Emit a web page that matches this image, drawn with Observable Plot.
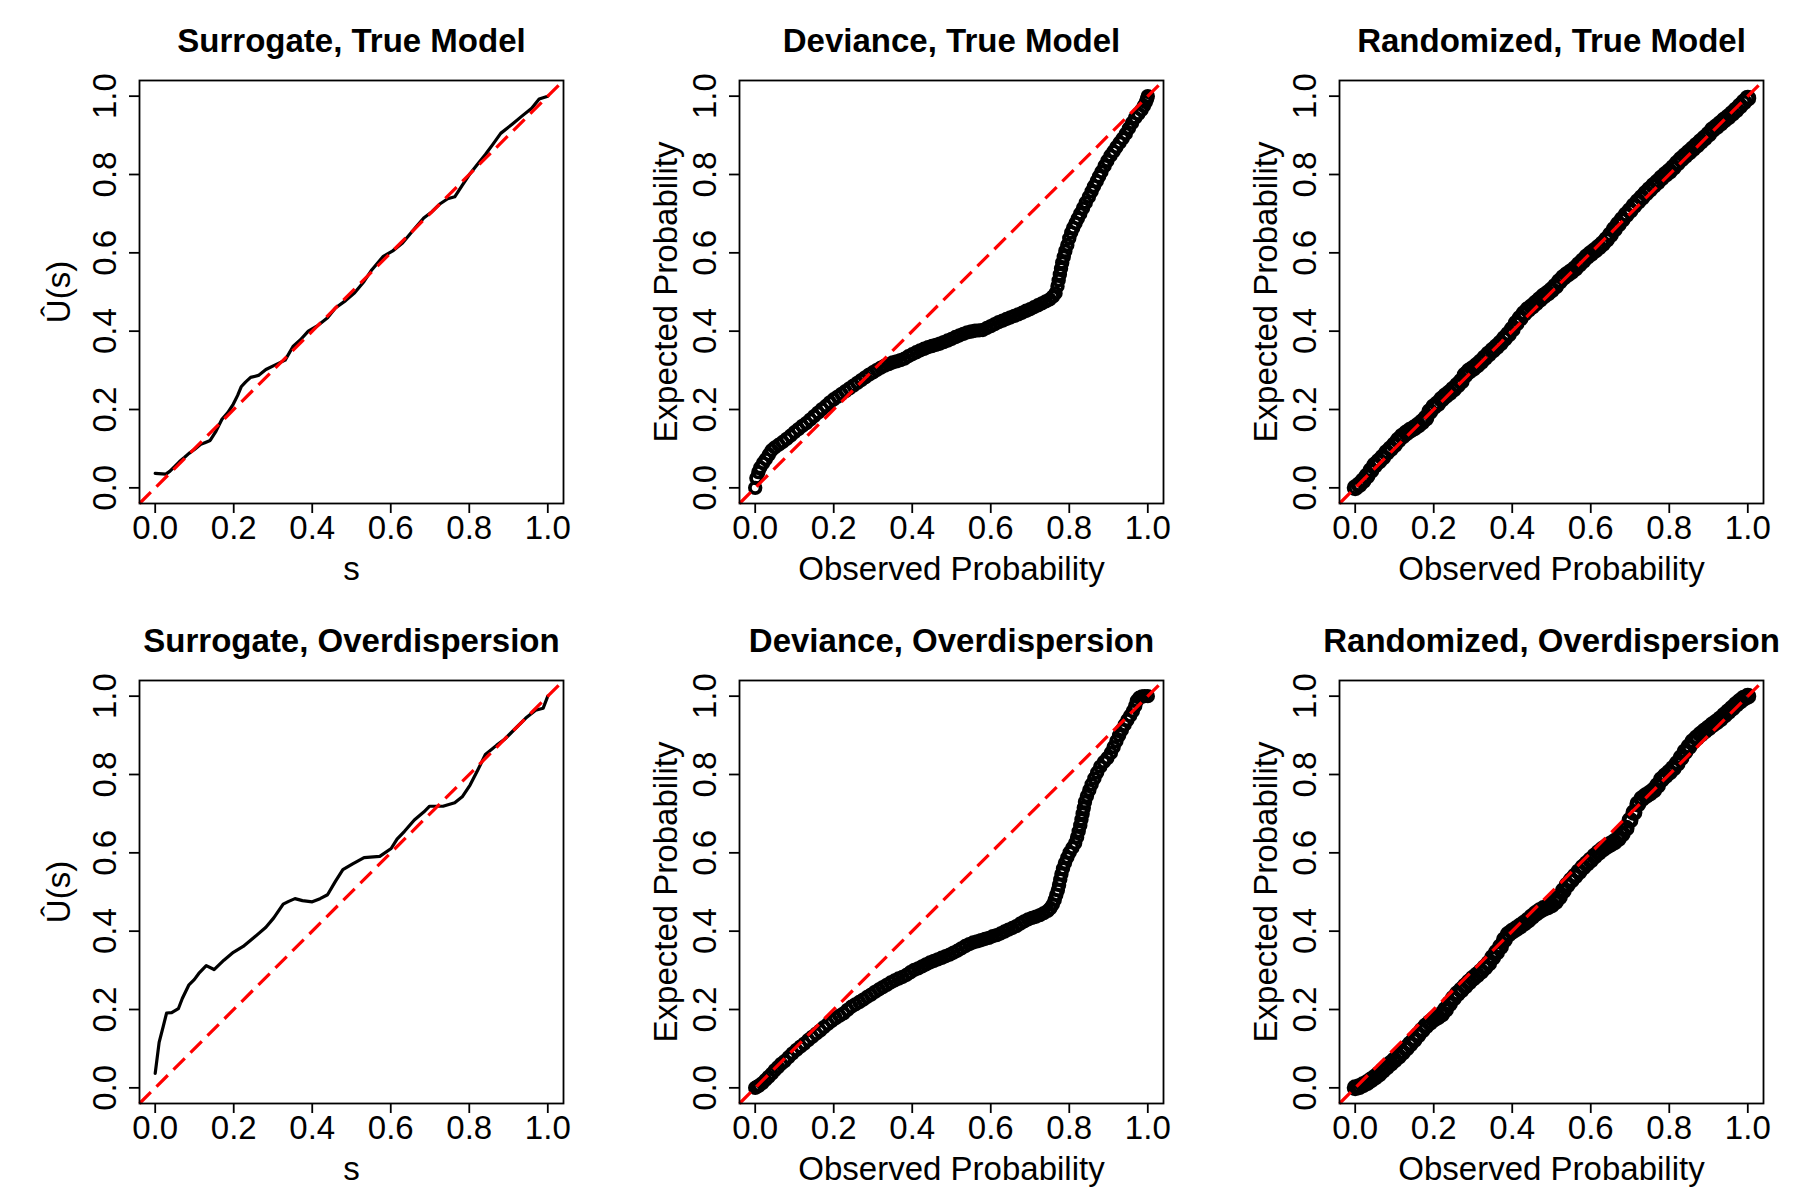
<!DOCTYPE html>
<html>
<head>
<meta charset="utf-8">
<script src="https://cdn.jsdelivr.net/npm/d3@7"></script>
<script src="https://cdn.jsdelivr.net/npm/@observablehq/plot@0.6"></script>
<style>
  html, body { margin: 0; padding: 0; background: #fff; }
  #root { position: relative; width: 1800px; height: 1200px; background: #fff; }
  .cell { position: absolute; width: 600px; height: 600px; }
</style>
</head>
<body>
<div id="root"></div>
<script>
// ---------- tick values / labels ----------
const tickValues = [0, 0.2, 0.4, 0.6, 0.8, 1.0];
const tickLabels = ["0.0", "0.2", "0.4", "0.6", "0.8", "1.0"];
const axisDomain = [-0.04, 1.04];

// ---------- panel titles & axis labels ----------
const titles = [
  "Surrogate, True Model", "Deviance, True Model", "Randomized, True Model",
  "Surrogate, Overdispersion", "Deviance, Overdispersion", "Randomized, Overdispersion"
];
const xLabels = ["s", "Observed Probability", "Observed Probability", "s", "Observed Probability", "Observed Probability"];
const yLabels = ["Û(s)", "Expected Probability", "Expected Probability", "Û(s)", "Expected Probability", "Expected Probability"];

// ---------- series: [s, U(s)] ----------
const surrogateTrue = [
  [0.000,0.037],[0.027,0.035],[0.037,0.042],[0.050,0.055],[0.062,0.067],[0.075,0.078],[0.086,0.088],
  [0.100,0.098],[0.116,0.111],[0.128,0.116],[0.140,0.121],[0.155,0.145],[0.170,0.175],[0.185,0.192],
  [0.199,0.214],[0.210,0.236],[0.219,0.258],[0.230,0.270],[0.243,0.282],[0.263,0.287],[0.282,0.302],
  [0.302,0.312],[0.331,0.326],[0.351,0.361],[0.370,0.378],[0.390,0.400],[0.415,0.415],[0.439,0.434],
  [0.459,0.459],[0.485,0.478],[0.508,0.498],[0.532,0.527],[0.552,0.557],[0.581,0.591],[0.605,0.605],
  [0.630,0.625],[0.655,0.655],[0.684,0.689],[0.705,0.705],[0.724,0.724],[0.745,0.738],[0.763,0.743],
  [0.782,0.772],[0.802,0.802],[0.820,0.825],[0.841,0.851],[0.860,0.877],[0.880,0.905],[0.910,0.929],
  [0.934,0.949],[0.959,0.969],[0.978,0.993],[1.000,1.000]
];
const surrogateOver = [
  [0.000,0.037],[0.010,0.116],[0.020,0.155],[0.029,0.191],[0.042,0.192],[0.059,0.202],[0.069,0.228],
  [0.086,0.263],[0.100,0.277],[0.111,0.292],[0.130,0.312],[0.150,0.302],[0.175,0.326],[0.199,0.346],
  [0.224,0.361],[0.253,0.385],[0.282,0.410],[0.302,0.434],[0.326,0.469],[0.340,0.476],[0.356,0.483],
  [0.375,0.478],[0.400,0.475],[0.420,0.483],[0.439,0.493],[0.459,0.527],[0.478,0.557],[0.503,0.572],
  [0.532,0.588],[0.572,0.591],[0.601,0.611],[0.616,0.635],[0.635,0.655],[0.660,0.684],[0.684,0.704],
  [0.699,0.719],[0.733,0.719],[0.763,0.728],[0.782,0.743],[0.802,0.773],[0.822,0.812],[0.841,0.851],
  [0.870,0.875],[0.890,0.890],[0.920,0.920],[0.944,0.944],[0.969,0.964],[0.988,0.969],[1.000,1.000]
];

// ---------- series: [observed, expected] ----------
const devianceTrue = [
  [0.000,0.000],[0.003,0.025],[0.008,0.040],[0.013,0.052],[0.020,0.063],[0.027,0.073],[0.035,0.085],
  [0.042,0.096],[0.050,0.103],[0.060,0.110],[0.070,0.117],[0.080,0.125],[0.090,0.133],[0.100,0.142],
  [0.110,0.150],[0.120,0.158],[0.130,0.165],[0.140,0.174],[0.150,0.183],[0.160,0.192],[0.170,0.201],
  [0.180,0.209],[0.190,0.218],[0.200,0.226],[0.210,0.233],[0.220,0.240],[0.230,0.247],[0.240,0.254],
  [0.250,0.261],[0.260,0.268],[0.270,0.275],[0.280,0.282],[0.290,0.289],[0.300,0.295],[0.310,0.301],
  [0.320,0.307],[0.330,0.312],[0.340,0.316],[0.350,0.320],[0.360,0.323],[0.370,0.326],[0.380,0.330],
  [0.390,0.336],[0.400,0.341],[0.410,0.346],[0.420,0.351],[0.430,0.355],[0.440,0.359],[0.450,0.362],
  [0.460,0.365],[0.470,0.368],[0.480,0.372],[0.490,0.376],[0.500,0.380],[0.510,0.385],[0.520,0.389],
  [0.530,0.393],[0.540,0.397],[0.550,0.399],[0.560,0.401],[0.570,0.402],[0.580,0.403],[0.590,0.408],
  [0.600,0.413],[0.610,0.418],[0.620,0.423],[0.630,0.427],[0.640,0.431],[0.650,0.435],[0.660,0.439],
  [0.670,0.443],[0.680,0.447],[0.690,0.452],[0.700,0.456],[0.710,0.461],[0.720,0.466],[0.730,0.471],
  [0.740,0.476],[0.750,0.481],[0.758,0.488],[0.765,0.497],[0.770,0.515],[0.773,0.530],[0.776,0.545],
  [0.779,0.560],[0.782,0.575],[0.786,0.590],[0.790,0.605],[0.795,0.620],[0.800,0.637],[0.805,0.652],
  [0.810,0.664],[0.816,0.676],[0.822,0.688],[0.828,0.700],[0.835,0.714],[0.842,0.728],[0.850,0.743],
  [0.857,0.757],[0.863,0.770],[0.870,0.783],[0.876,0.795],[0.882,0.807],[0.890,0.822],[0.897,0.835],
  [0.905,0.848],[0.913,0.859],[0.920,0.870],[0.928,0.881],[0.936,0.892],[0.944,0.904],[0.952,0.918],
  [0.960,0.932],[0.968,0.945],[0.976,0.955],[0.984,0.965],[0.990,0.975],[0.995,0.985],[0.998,0.993],
  [1.000,1.000]
];
const devianceOver = [
  [0.000,0.000],[0.005,0.003],[0.010,0.006],[0.018,0.012],[0.026,0.020],[0.034,0.028],[0.042,0.036],
  [0.050,0.045],[0.058,0.053],[0.066,0.061],[0.075,0.068],[0.085,0.078],[0.095,0.088],[0.105,0.097],
  [0.115,0.105],[0.125,0.113],[0.135,0.122],[0.145,0.130],[0.155,0.138],[0.165,0.146],[0.175,0.155],
  [0.185,0.163],[0.195,0.171],[0.205,0.178],[0.215,0.184],[0.225,0.190],[0.235,0.199],[0.245,0.207],
  [0.255,0.213],[0.265,0.219],[0.275,0.225],[0.285,0.232],[0.295,0.238],[0.305,0.245],[0.315,0.251],
  [0.325,0.257],[0.335,0.263],[0.345,0.269],[0.355,0.274],[0.365,0.279],[0.375,0.283],[0.385,0.288],
  [0.395,0.295],[0.405,0.301],[0.415,0.305],[0.425,0.310],[0.435,0.315],[0.445,0.320],[0.455,0.324],
  [0.465,0.328],[0.475,0.332],[0.485,0.336],[0.495,0.340],[0.505,0.345],[0.515,0.350],[0.525,0.356],
  [0.535,0.362],[0.545,0.367],[0.555,0.371],[0.565,0.374],[0.575,0.377],[0.585,0.380],[0.595,0.383],
  [0.605,0.387],[0.615,0.390],[0.625,0.394],[0.635,0.399],[0.645,0.404],[0.655,0.408],[0.665,0.413],
  [0.675,0.419],[0.685,0.425],[0.695,0.430],[0.705,0.434],[0.715,0.437],[0.725,0.441],[0.735,0.446],
  [0.745,0.452],[0.752,0.459],[0.758,0.468],[0.763,0.480],[0.767,0.493],[0.771,0.505],[0.774,0.518],
  [0.777,0.532],[0.780,0.546],[0.784,0.560],[0.789,0.574],[0.795,0.588],[0.801,0.601],[0.808,0.613],
  [0.815,0.625],[0.820,0.640],[0.824,0.655],[0.828,0.670],[0.831,0.685],[0.834,0.700],[0.837,0.715],
  [0.840,0.730],[0.845,0.745],[0.851,0.760],[0.857,0.775],[0.864,0.790],[0.871,0.805],[0.879,0.820],
  [0.888,0.832],[0.897,0.842],[0.906,0.855],[0.913,0.870],[0.920,0.885],[0.927,0.900],[0.934,0.914],
  [0.941,0.927],[0.948,0.939],[0.955,0.950],[0.962,0.962],[0.968,0.975],[0.972,0.988],[0.978,0.996],
  [0.985,0.999],[0.992,1.000],[1.000,1.000]
];
const randomizedTrue = [
  [0.000,0.000],[0.010,0.008],[0.020,0.018],[0.030,0.030],[0.040,0.044],[0.050,0.058],[0.060,0.068],
  [0.070,0.078],[0.080,0.090],[0.090,0.100],[0.100,0.110],[0.110,0.122],[0.120,0.132],[0.130,0.140],
  [0.140,0.147],[0.150,0.153],[0.160,0.160],[0.170,0.168],[0.180,0.178],[0.190,0.195],[0.200,0.207],
  [0.210,0.215],[0.220,0.226],[0.230,0.235],[0.240,0.243],[0.250,0.252],[0.260,0.262],[0.270,0.272],
  [0.280,0.288],[0.290,0.298],[0.300,0.305],[0.310,0.313],[0.320,0.322],[0.330,0.332],[0.340,0.342],
  [0.350,0.351],[0.360,0.360],[0.370,0.370],[0.380,0.381],[0.390,0.392],[0.400,0.405],[0.410,0.420],
  [0.420,0.433],[0.430,0.445],[0.440,0.455],[0.450,0.463],[0.460,0.472],[0.470,0.481],[0.480,0.490],
  [0.490,0.497],[0.500,0.505],[0.510,0.515],[0.520,0.527],[0.530,0.537],[0.540,0.545],[0.550,0.552],
  [0.560,0.560],[0.570,0.570],[0.580,0.580],[0.590,0.590],[0.600,0.598],[0.610,0.606],[0.620,0.614],
  [0.630,0.623],[0.640,0.634],[0.650,0.646],[0.660,0.660],[0.670,0.673],[0.680,0.685],[0.690,0.697],
  [0.700,0.708],[0.710,0.720],[0.720,0.731],[0.730,0.741],[0.740,0.752],[0.750,0.762],[0.760,0.772],
  [0.770,0.781],[0.780,0.791],[0.790,0.800],[0.800,0.808],[0.810,0.818],[0.820,0.829],[0.830,0.839],
  [0.840,0.848],[0.850,0.857],[0.860,0.866],[0.870,0.875],[0.880,0.884],[0.890,0.893],[0.900,0.903],
  [0.910,0.914],[0.920,0.922],[0.930,0.930],[0.940,0.939],[0.950,0.947],[0.960,0.956],[0.970,0.965],
  [0.980,0.975],[0.990,0.985],[1.000,0.995]
];
const randomizedOver = [
  [0.000,0.000],[0.010,0.003],[0.020,0.008],[0.030,0.013],[0.040,0.020],[0.050,0.027],[0.060,0.035],
  [0.070,0.044],[0.080,0.053],[0.090,0.062],[0.100,0.071],[0.110,0.080],[0.120,0.090],[0.130,0.101],
  [0.140,0.112],[0.150,0.123],[0.160,0.135],[0.170,0.147],[0.180,0.158],[0.190,0.167],[0.200,0.175],
  [0.210,0.181],[0.220,0.188],[0.230,0.200],[0.240,0.215],[0.250,0.229],[0.260,0.240],[0.270,0.250],
  [0.280,0.260],[0.290,0.270],[0.300,0.280],[0.310,0.288],[0.320,0.297],[0.330,0.307],[0.340,0.318],
  [0.350,0.333],[0.360,0.346],[0.370,0.360],[0.380,0.378],[0.390,0.392],[0.400,0.400],[0.410,0.406],
  [0.420,0.413],[0.430,0.420],[0.440,0.428],[0.450,0.437],[0.460,0.445],[0.470,0.452],[0.480,0.458],
  [0.490,0.462],[0.500,0.467],[0.510,0.475],[0.520,0.487],[0.530,0.503],[0.540,0.518],[0.550,0.530],
  [0.560,0.541],[0.570,0.552],[0.580,0.563],[0.590,0.573],[0.600,0.582],[0.610,0.592],[0.620,0.601],
  [0.630,0.609],[0.640,0.616],[0.650,0.622],[0.660,0.628],[0.670,0.636],[0.680,0.648],[0.690,0.663],
  [0.700,0.683],[0.710,0.703],[0.720,0.725],[0.730,0.738],[0.740,0.746],[0.750,0.752],[0.760,0.760],
  [0.770,0.772],[0.780,0.787],[0.790,0.797],[0.800,0.806],[0.810,0.816],[0.820,0.828],[0.830,0.843],
  [0.840,0.858],[0.850,0.871],[0.860,0.884],[0.870,0.894],[0.880,0.903],[0.890,0.911],[0.900,0.919],
  [0.910,0.927],[0.920,0.934],[0.930,0.942],[0.940,0.951],[0.950,0.960],[0.960,0.969],[0.970,0.979],
  [0.980,0.987],[0.990,0.995],[1.000,1.000]
];

const panels = [
  {data: surrogateTrue, kind: "line"},
  {data: devianceTrue, kind: "dot"},
  {data: randomizedTrue, kind: "dot"},
  {data: surrogateOver, kind: "line"},
  {data: devianceOver, kind: "dot"},
  {data: randomizedOver, kind: "dot"}
];

const FONT = "'Liberation Sans', Arial, Helvetica, sans-serif";
const diagonal = axisDomain.map(v => [v, v]);

function makePanel(i) {
  const p = panels[i];
  const isSurr = p.kind === "line";
  const isRand = i === 2 || i === 5;
  const seriesMark = isSurr
    ? Plot.line(p.data, {x: d => d[0], y: d => d[1], stroke: "black", strokeWidth: 3.2, strokeLinejoin: "round"})
    : Plot.dot(p.data, {x: d => d[0], y: d => d[1], r: isRand ? 6 : 5.3, stroke: "black",
                        strokeWidth: isRand ? 5 : 3.8, fill: "none"});
  return Plot.plot({
    width: 600, height: 600,
    marginLeft: 139, marginRight: 37, marginTop: 80, marginBottom: 97,
    x: {domain: axisDomain},
    y: {domain: axisDomain},
    style: {fontFamily: FONT, fontSize: "33px", background: "white", overflow: "visible", color: "black"},
    marks: [
      seriesMark,
      Plot.line(diagonal, {x: d => d[0], y: d => d[1], stroke: "#f00", strokeWidth: 3.2, strokeDasharray: "16,8", strokeLinecap: "butt"}),
      Plot.frame({stroke: "black", strokeWidth: 1.8}),
      Plot.axisX({ticks: tickValues, tickSize: 10, tickPadding: 2, strokeWidth: 1.8,
                  tickFormat: v => tickLabels[tickValues.indexOf(v)], fontSize: 33}),
      Plot.axisY({ticks: tickValues, tickSize: 10, strokeWidth: 1.8, tickFormat: () => ""}),
      Plot.text(tickValues, {y: d => d, text: (d, j) => tickLabels[j], frameAnchor: "left", rotate: -90,
                             textAnchor: "middle", lineAnchor: "bottom", dx: -24, fontSize: 33}),
      Plot.text([titles[i]], {text: d => d, frameAnchor: "top", lineAnchor: "bottom", dy: -29,
                              fontWeight: "bold", fontSize: 33}),
      Plot.text([xLabels[i]], {text: d => d, frameAnchor: "bottom", lineAnchor: "bottom", dy: 76, fontSize: 33}),
      Plot.text([yLabels[i]], {text: d => d, frameAnchor: "left", rotate: -90, textAnchor: "middle",
                               lineAnchor: "bottom", dx: isSurr ? -70 : -63, fontSize: 33})
    ]
  });
}

const root = document.getElementById("root");
for (let i = 0; i < 6; i++) {
  const cell = document.createElement("div");
  cell.className = "cell";
  cell.style.left = (i % 3) * 600 + "px";
  cell.style.top = Math.floor(i / 3) * 600 + "px";
  cell.appendChild(makePanel(i));
  root.appendChild(cell);
}
</script>
</body>
</html>
